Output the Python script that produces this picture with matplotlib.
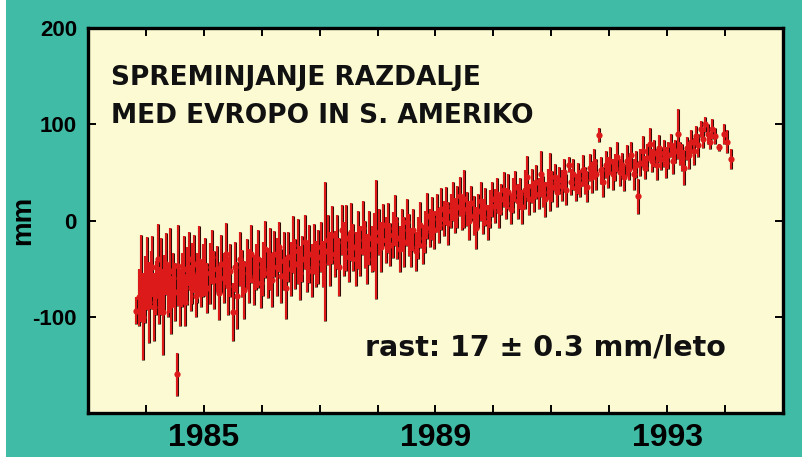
import numpy as np
import matplotlib
matplotlib.use("Agg")
import matplotlib.pyplot as plt
from matplotlib.patches import Rectangle

plt.rcParams["axes.unicode_minus"] = False

# ── podatki: čas (leto), razdalja (mm), napaka (mm) ──
leto_1984 = [1983.83, 1983.88, 1983.92, 1983.95, 1983.98, 1984.02, 1984.05, 1984.08, 1984.11, 1984.14,
             1984.17, 1984.20, 1984.23, 1984.26, 1984.29, 1984.32, 1984.35, 1984.38, 1984.41, 1984.44,
             1984.47, 1984.50, 1984.53, 1984.56, 1984.59, 1984.62, 1984.65, 1984.68, 1984.71, 1984.74,
             1984.77, 1984.80, 1984.83, 1984.86, 1984.89, 1984.92, 1984.95, 1984.98]
mm_1984 = [-94, -80, -60, -100, -72, -55, -85, -62, -48, -90,
           -70, -40, -78, -58, -95, -66, -45, -72, -52, -88,
           -60, -74, -160, -47, -80, -62, -50, -85, -58, -40,
           -70, -55, -45, -78, -60, -42, -66, -52]
err_1984 = [14, 30, 45, 45, 35, 38, 42, 30, 32, 35,
            28, 36, 30, 40, 45, 30, 32, 28, 44, 30,
            26, 30, 22, 42, 30, 28, 34, 25, 30, 28,
            24, 32, 30, 22, 26, 36, 24, 28]

leto_1985 = [1985.02, 1985.06, 1985.10, 1985.14, 1985.18, 1985.22, 1985.26, 1985.30, 1985.34, 1985.38,
             1985.42, 1985.46, 1985.50, 1985.54, 1985.58, 1985.62, 1985.66, 1985.70, 1985.74, 1985.78,
             1985.82, 1985.86, 1985.90, 1985.94, 1985.98]
mm_1985 = [-48, -70, -55, -38, -62, -50, -75, -45, -60, -35,
           -68, -52, -95, -48, -78, -40, -55, -72, -45, -58,
           -35, -62, -48, -40, -65]
err_1985 = [30, 26, 32, 28, 30, 24, 28, 30, 26, 32,
            30, 28, 30, 26, 35, 28, 24, 30, 26, 28,
            30, 26, 24, 30, 26]

leto_1986 = [1986.02, 1986.06, 1986.10, 1986.14, 1986.18, 1986.22, 1986.26, 1986.30, 1986.34, 1986.38,
             1986.42, 1986.46, 1986.50, 1986.54, 1986.58, 1986.62, 1986.66, 1986.70, 1986.74, 1986.78,
             1986.82, 1986.86, 1986.90, 1986.94, 1986.98]
mm_1986 = [-50, -30, -55, -40, -62, -35, -48, -28, -58, -42,
           -70, -38, -50, -25, -45, -32, -55, -40, -22, -48,
           -35, -52, -30, -45, -38]
err_1986 = [28, 30, 26, 32, 28, 24, 30, 26, 28, 30,
            32, 26, 28, 30, 26, 34, 28, 24, 28, 26,
            30, 28, 26, 24, 28]

leto_1987 = [1987.02, 1987.06, 1987.10, 1987.14, 1987.18, 1987.22, 1987.26, 1987.30, 1987.34, 1987.38,
             1987.42, 1987.46, 1987.50, 1987.54, 1987.58, 1987.62, 1987.66, 1987.70, 1987.74, 1987.78,
             1987.82, 1987.86, 1987.90, 1987.94, 1987.98]
mm_1987 = [-28, -45, -32, -20, -40, -15, -35, -22, -48, -10,
           -30, -18, -38, -12, -28, -40, -20, -32, -8, -25,
           -40, -18, -30, -22, -20]
err_1987 = [26, 24, 72, 26, 28, 30, 24, 28, 30, 26,
            28, 34, 26, 30, 24, 28, 30, 26, 28, 24,
            26, 28, 24, 30, 62]

leto_1988 = [1988.02, 1988.06, 1988.10, 1988.14, 1988.18, 1988.22, 1988.26, 1988.30, 1988.34, 1988.38,
             1988.42, 1988.46, 1988.50, 1988.54, 1988.58, 1988.62, 1988.66, 1988.70, 1988.74, 1988.78,
             1988.82, 1988.86, 1988.90, 1988.94, 1988.98]
mm_1988 = [-12, -28, -5, -20, -8, -25, -15, 0, -18, -30,
           -10, -22, -2, -15, -28, -10, -32, -18, -5, -25,
           -12, 5, -8, 2, -10]
err_1988 = [24, 26, 22, 24, 26, 22, 24, 26, 22, 24,
            22, 26, 24, 22, 20, 22, 20, 22, 24, 20,
            22, 24, 20, 22, 20]

leto_1989 = [1989.02, 1989.06, 1989.10, 1989.14, 1989.18, 1989.22, 1989.26, 1989.30, 1989.34, 1989.38,
             1989.42, 1989.46, 1989.50, 1989.54, 1989.58, 1989.62, 1989.66, 1989.70, 1989.74, 1989.78,
             1989.82, 1989.86, 1989.90, 1989.94, 1989.98]
mm_1989 = [8, -5, 12, 2, 15, -3, 10, 20, 5, 14,
           25, 8, 22, 12, 0, 18, 5, -8, 10, 20,
           4, 14, -2, 12, 22]
err_1989 = [20, 18, 22, 18, 20, 22, 18, 20, 18, 22,
            20, 18, 30, 18, 20, 18, 20, 22, 18, 20,
            18, 20, 18, 20, 18]

leto_1990 = [1990.02, 1990.06, 1990.10, 1990.14, 1990.18, 1990.22, 1990.26, 1990.30, 1990.34, 1990.38,
             1990.42, 1990.46, 1990.50, 1990.54, 1990.58, 1990.62, 1990.66, 1990.70, 1990.74, 1990.78,
             1990.82, 1990.86, 1990.90, 1990.94, 1990.98]
mm_1990 = [15, 28, 10, 22, 32, 18, 30, 12, 26, 35,
           20, 28, 14, 32, 45, 22, 36, 25, 40, 28,
           48, 30, 22, 38, 40]
err_1990 = [18, 16, 18, 16, 18, 16, 18, 16, 18, 16,
            18, 16, 18, 20, 22, 16, 18, 16, 18, 16,
            24, 16, 18, 16, 30]

leto_1991 = [1991.02, 1991.06, 1991.10, 1991.14, 1991.18, 1991.22, 1991.26, 1991.30, 1991.34, 1991.38,
             1991.42, 1991.46, 1991.50, 1991.54, 1991.58, 1991.62, 1991.66, 1991.70, 1991.74, 1991.78,
             1991.82, 1991.86, 1991.90, 1991.94, 1991.98]
mm_1991 = [35, 45, 30, 42, 36, 50, 32, 58, 40, 48,
           34, 44, 38, 52, 42, 35, 55, 45, 60, 48,
           89, 52, 40, 58, 50]
err_1991 = [16, 14, 16, 14, 16, 14, 16, 8, 14, 16,
            14, 16, 14, 16, 14, 16, 14, 16, 14, 16,
            7, 14, 16, 14, 16]

leto_1992 = [1992.02, 1992.06, 1992.10, 1992.14, 1992.18, 1992.22, 1992.26, 1992.30, 1992.34, 1992.38,
             1992.42, 1992.46, 1992.50, 1992.54, 1992.58, 1992.62, 1992.66, 1992.70, 1992.74, 1992.78,
             1992.82, 1992.86, 1992.90, 1992.94, 1992.98]
mm_1992 = [62, 48, 55, 66, 50, 58, 45, 62, 54, 68,
           48, 58, 25, 60, 72, 55, 65, 80, 62, 70,
           58, 75, 64, 70, 60]
err_1992 = [14, 16, 14, 16, 14, 12, 14, 16, 12, 14,
            16, 14, 18, 14, 16, 12, 14, 16, 12, 14,
            16, 14, 12, 14, 16]

leto_1993 = [1993.02, 1993.06, 1993.10, 1993.14, 1993.18, 1993.22, 1993.26, 1993.30, 1993.34, 1993.38,
             1993.42, 1993.46, 1993.50, 1993.54, 1993.58, 1993.62, 1993.66, 1993.70, 1993.74, 1993.78,
             1993.82, 1993.90, 1993.98, 1994.04, 1994.10]
mm_1993 = [68, 78, 62, 72, 90, 70, 65, 55, 75, 68,
           82, 72, 88, 78, 95, 85, 100, 90, 82, 95,
           88, 76, 90, 82, 64]
err_1993 = [14, 12, 14, 12, 26, 12, 14, 18, 12, 14,
            12, 14, 10, 12, 8, 10, 8, 10, 8, 10,
            8, 4, 10, 12, 10]

cas = np.array(leto_1984 + leto_1985 + leto_1986 + leto_1987 + leto_1988
               + leto_1989 + leto_1990 + leto_1991 + leto_1992 + leto_1993)
razdalja = np.array(mm_1984 + mm_1985 + mm_1986 + mm_1987 + mm_1988
                    + mm_1989 + mm_1990 + mm_1991 + mm_1992 + mm_1993)
napaka = np.array(err_1984 + err_1985 + err_1986 + err_1987 + err_1988
                  + err_1989 + err_1990 + err_1991 + err_1992 + err_1993)

leta_oznake = [1985, 1989, 1993]
leta_vsa = list(range(1984, 1995))
y_oznake = [-100, 0, 100, 200]

# ── barve ──
OZADJE = "#3fbba6"
RUMENA = "#fcfad2"
RDECA = "#dc1a1a"
TEMNA = "#2a0d08"

fig = plt.figure(figsize=(8.03, 4.57), dpi=100, facecolor=OZADJE)
fig.patches.append(Rectangle((0, 0), 0.008, 1, transform=fig.transFigure,
                             facecolor="white", edgecolor="none", zorder=0))
ax = fig.add_axes([0.1096, 0.0963, 0.8654, 0.8424])
ax.set_facecolor(RUMENA)

# napake: temna zunanja črta, rdeča sredina
ax.errorbar(cas, razdalja, yerr=napaka, fmt="none", ecolor=TEMNA,
            elinewidth=2.2, capsize=0, zorder=2)
ax.errorbar(cas, razdalja, yerr=napaka, fmt="none", ecolor=RDECA,
            elinewidth=1.5, capsize=0, zorder=3)
ax.plot(cas, razdalja, "o", color=RDECA, markersize=4.5,
        markeredgewidth=0, zorder=4)

ax.set_xlim(1983, 1995)
ax.set_ylim(-200, 200)
ax.set_xticks(leta_oznake)
ax.set_xticks(leta_vsa, minor=True)
ax.set_yticks(y_oznake)

for spine in ax.spines.values():
    spine.set_linewidth(2.4)
    spine.set_color("black")

ax.tick_params(which="both", direction="in", top=True, right=True,
               length=6, width=1.4, color="black")
ax.tick_params(axis="x", which="major", pad=7)
ax.tick_params(axis="y", pad=8)

for lbl in ax.get_xticklabels():
    lbl.set_fontfamily("Liberation Sans")
    lbl.set_fontweight("bold")
    lbl.set_fontsize(23)
for lbl in ax.get_yticklabels():
    lbl.set_fontfamily("Liberation Sans")
    lbl.set_fontweight("bold")
    lbl.set_fontsize(16)

ax.set_ylabel("mm", fontsize=20, fontweight="bold", fontfamily="Liberation Sans")
ax.yaxis.set_label_coords(-0.075, 0.5)

ax.text(0.033, 0.905, "SPREMINJANJE RAZDALJE\nMED EVROPO IN S. AMERIKO",
        transform=ax.transAxes, fontsize=19, fontweight="bold",
        fontfamily="DejaVu Sans", linespacing=1.6, va="top", ha="left",
        color="#111111")
ax.text(0.918, 0.171, "rast: 17 \u00b1 0.3 mm/leto", transform=ax.transAxes,
        fontsize=20.5, fontweight="bold", fontfamily="DejaVu Sans",
        ha="right", va="center", color="#111111")

fig.savefig("out.png", dpi=100, facecolor=OZADJE)
